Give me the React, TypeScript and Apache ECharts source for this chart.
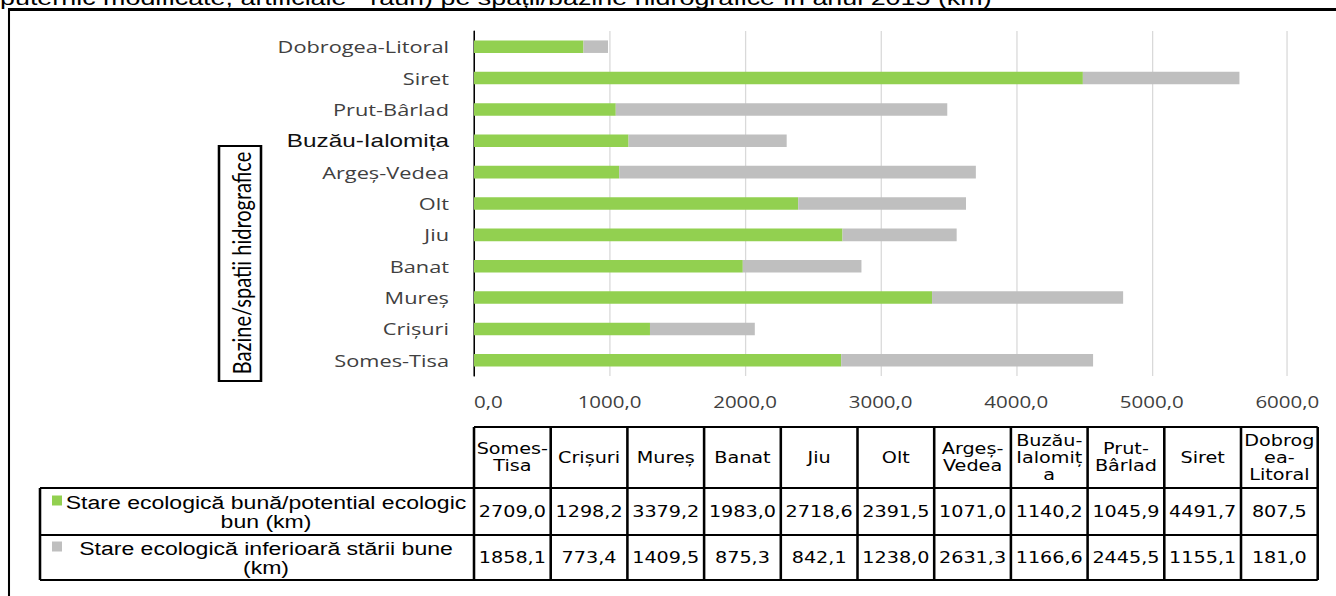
import React, { useEffect, useRef } from "react";
import * as echarts from "echarts";

const categories = ["Somes-Tisa", "Crișuri", "Mureș", "Banat", "Jiu", "Olt", "Argeș-Vedea", "Buzău-Ialomița", "Prut-Bârlad", "Siret", "Dobrogea-Litoral"];
const tableHeaders = ["Somes-\nTisa", "Crișuri", "Mureș", "Banat", "Jiu", "Olt", "Argeș-\nVedea", "Buzău-\nIalomiț\na", "Prut-\nBârlad", "Siret", "Dobrog\nea-\nLitoral"];
const goodValues = [2709.0, 1298.2, 3379.2, 1983.0, 2718.6, 2391.5, 1071.0, 1140.2, 1045.9, 4491.7, 807.5];
const poorValues = [1858.1, 773.4, 1409.5, 875.3, 842.1, 1238.0, 2631.3, 1166.6, 2445.5, 1155.1, 181.0];
const seriesNames = ["Stare ecologică bună/potential ecologic bun (km)", "Stare ecologică inferioară stării bune (km)"];
const seriesLabelLines = ["Stare ecologică bună/potential ecologic\nbun (km)", "Stare ecologică inferioară stării bune\n(km)"];
const seriesColors = ["#92D050", "#BFBFBF"];
const xMin = 0;
const xMax = 6000;
const xInterval = 1000;
const yAxisTitle = "Bazine/spatii hidrografice";
const pageTitle = "puternic modificate, artificiale - râuri) pe spații/bazine hidrografice în anul 2015 (km)";

const fmt = (v: number) => v.toFixed(1).replace(".", ",");

// horizontal stretch of the whole picture (the reference is a stretched screenshot)
const S = 1.28;
const X = (px: number) => px / S;

export default function App() {
  const ref = useRef<HTMLDivElement>(null);
  useEffect(() => {
    if (!ref.current) return;
    const chart = echarts.init(ref.current, null, { renderer: "svg" });

    const colX0 = X(474);
    const colW = X(76.7);
    const hTop = 427;
    const hBot = 488;
    const r1Bot = 535;
    const r2Bot = 580;
    const labelLeft = X(40);
    const tableRight = colX0 + colW * categories.length;
    const lineStyle = { stroke: "#000", lineWidth: 2 };
    const tableFont = "15px 'DejaVu Sans'";

    const g: any[] = [];
    // frame
    g.push({ type: "line", shape: { x1: X(8), y1: 9.5, x2: X(1336), y2: 9.5 }, style: { stroke: "#000", lineWidth: 3 } });
    g.push({ type: "line", shape: { x1: X(9), y1: 8, x2: X(9), y2: 596 }, style: { stroke: "#000", lineWidth: 1.6 } });
    // clipped title
    g.push({
      type: "text",
      left: 0,
      top: -13,
      style: { text: pageTitle, font: "21px 'Liberation Sans'", fill: "#000" },
    });
    // y axis title box
    g.push({ type: "rect", shape: { x: X(219), y: 146, width: X(42), height: 235 }, style: { fill: "#fff", stroke: "#000", lineWidth: 2 } });
    g.push({
      type: "text",
      x: X(241),
      y: 263,
      rotation: Math.PI / 2,
      style: { text: yAxisTitle, font: "20px Lato", fill: "#000", align: "center", verticalAlign: "middle" },
    });

    // table lines
    for (let i = 0; i <= categories.length; i++) {
      const x = colX0 + i * colW;
      g.push({ type: "line", shape: { x1: x, y1: hTop, x2: x, y2: r2Bot }, style: lineStyle });
    }
    g.push({ type: "line", shape: { x1: colX0, y1: hTop, x2: tableRight, y2: hTop }, style: lineStyle });
    [hBot, r1Bot, r2Bot].forEach((y) => {
      g.push({ type: "line", shape: { x1: labelLeft, y1: y, x2: tableRight, y2: y }, style: lineStyle });
    });
    g.push({ type: "line", shape: { x1: labelLeft, y1: hBot, x2: labelLeft, y2: r2Bot }, style: lineStyle });

    // header texts
    tableHeaders.forEach((h, i) => {
      g.push({
        type: "text",
        x: colX0 + (i + 0.5) * colW,
        y: (hTop + hBot) / 2,
        style: { text: h, font: tableFont, fill: "#000", align: "center", verticalAlign: "middle", lineHeight: 17 },
      });
    });
    const rowsY = [(hBot + r1Bot) / 2, (r1Bot + r2Bot) / 2];
    [goodValues, poorValues].forEach((vals, r) => {
      vals.forEach((v, i) => {
        g.push({
          type: "text",
          x: colX0 + (i + 0.5) * colW,
          y: rowsY[r],
          style: { text: fmt(v), font: tableFont, fill: "#000", align: "center", verticalAlign: "middle" },
        });
      });
      g.push({ type: "rect", shape: { x: X(52), y: rowsY[r] - 16, width: X(10), height: 10 }, style: { fill: seriesColors[r] } });
      g.push({
        type: "text",
        x: X(266),
        y: rowsY[r],
        style: { text: seriesLabelLines[r], font: "18px 'Liberation Sans'", fill: "#000", align: "center", verticalAlign: "middle", lineHeight: 19 },
      });
    });

    chart.setOption({
      animation: false,
      backgroundColor: "#fff",
      grid: { left: X(474), right: X(49), top: 31, bottom: 220, containLabel: false },
      xAxis: {
        type: "value",
        min: xMin,
        max: xMax,
        interval: xInterval,
        axisLine: { show: false },
        axisTick: { show: false },
        splitLine: { show: true, lineStyle: { color: "#D9D9D9", width: 1 } },
        axisLabel: {
          formatter: (v: number) => fmt(v),
          fontFamily: "Open Sans",
          fontSize: 16,
          color: "#404040",
          margin: 17,
          showMinLabel: true,
          showMaxLabel: true,
          alignMinLabel: "left",
        },
      },
      yAxis: {
        type: "category",
        data: categories,
        axisLine: { show: true, lineStyle: { color: "#000", width: 1.2 } },
        axisTick: { show: false },
        axisLabel: {
          fontFamily: "Open Sans",
          fontSize: 17,
          color: "#404040",
          margin: X(25),
          formatter: (v: string) => (v === "Buzău-Ialomița" ? `{b|${v}}` : v),
          rich: { b: { fontFamily: "Liberation Sans", fontSize: 19, color: "#111" } },
        },
      },
      series: [
        { name: seriesNames[0], type: "bar", stack: "t", data: goodValues, barWidth: "40%", itemStyle: { color: seriesColors[0] } },
        { name: seriesNames[1], type: "bar", stack: "t", data: poorValues, barWidth: "40%", itemStyle: { color: seriesColors[1] } },
      ],
      graphic: g,
    });
    return () => chart.dispose();
  }, []);
  return (
    <div
      ref={ref}
      style={{ position: "fixed", left: 0, top: 0, width: 1336 / S, height: 596, transform: `scaleX(${S})`, transformOrigin: "0 0" }}
    />
  );
}
